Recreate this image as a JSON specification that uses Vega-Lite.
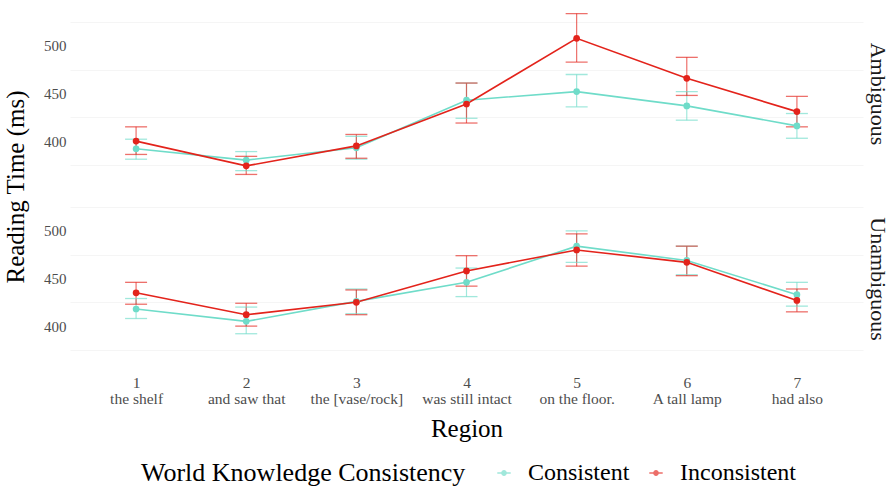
{
  "$schema": "https://vega.github.io/schema/vega-lite/v6.json",
  "padding": {"left": 3, "top": 5, "right": 2, "bottom": 5},
  "background": "white",
  "config": {
    "font": "Liberation Serif",
    "view": {"stroke": null},
    "facet": {"spacing": 7},
    "axis": {"domain": false, "ticks": false, "labelColor": "#4d4d4d", "titleColor": "#000000", "titleFontWeight": "normal", "gridColor": "#e6e6e6"}
  },
  "data": {"values": [
    {"ambiguity": "Ambiguous", "region": "1|the shelf", "condition": "Consistent", "rt": 392, "lo": 381, "hi": 402},
    {"ambiguity": "Ambiguous", "region": "2|and saw that", "condition": "Consistent", "rt": 380, "lo": 369, "hi": 389},
    {"ambiguity": "Ambiguous", "region": "3|the [vase/rock]", "condition": "Consistent", "rt": 393, "lo": 381, "hi": 405},
    {"ambiguity": "Ambiguous", "region": "4|was still intact", "condition": "Consistent", "rt": 443, "lo": 424, "hi": 461},
    {"ambiguity": "Ambiguous", "region": "5|on the floor.", "condition": "Consistent", "rt": 452, "lo": 436, "hi": 470},
    {"ambiguity": "Ambiguous", "region": "6|A tall lamp", "condition": "Consistent", "rt": 437, "lo": 422, "hi": 452},
    {"ambiguity": "Ambiguous", "region": "7|had also", "condition": "Consistent", "rt": 416, "lo": 403, "hi": 429},
    {"ambiguity": "Ambiguous", "region": "1|the shelf", "condition": "Inconsistent", "rt": 400, "lo": 386, "hi": 415},
    {"ambiguity": "Ambiguous", "region": "2|and saw that", "condition": "Inconsistent", "rt": 374, "lo": 365, "hi": 384},
    {"ambiguity": "Ambiguous", "region": "3|the [vase/rock]", "condition": "Inconsistent", "rt": 395, "lo": 382, "hi": 407},
    {"ambiguity": "Ambiguous", "region": "4|was still intact", "condition": "Inconsistent", "rt": 439, "lo": 419, "hi": 461},
    {"ambiguity": "Ambiguous", "region": "5|on the floor.", "condition": "Inconsistent", "rt": 508, "lo": 483, "hi": 534},
    {"ambiguity": "Ambiguous", "region": "6|A tall lamp", "condition": "Inconsistent", "rt": 466, "lo": 448, "hi": 488},
    {"ambiguity": "Ambiguous", "region": "7|had also", "condition": "Inconsistent", "rt": 431, "lo": 415, "hi": 447},
    {"ambiguity": "Unambiguous", "region": "1|the shelf", "condition": "Consistent", "rt": 418, "lo": 408, "hi": 429},
    {"ambiguity": "Unambiguous", "region": "2|and saw that", "condition": "Consistent", "rt": 405, "lo": 392, "hi": 420},
    {"ambiguity": "Unambiguous", "region": "3|the [vase/rock]", "condition": "Consistent", "rt": 426, "lo": 413, "hi": 439},
    {"ambiguity": "Unambiguous", "region": "4|was still intact", "condition": "Consistent", "rt": 446, "lo": 431, "hi": 461},
    {"ambiguity": "Unambiguous", "region": "5|on the floor.", "condition": "Consistent", "rt": 484, "lo": 467, "hi": 500},
    {"ambiguity": "Unambiguous", "region": "6|A tall lamp", "condition": "Consistent", "rt": 469, "lo": 454, "hi": 484},
    {"ambiguity": "Unambiguous", "region": "7|had also", "condition": "Consistent", "rt": 433, "lo": 421, "hi": 446},
    {"ambiguity": "Unambiguous", "region": "1|the shelf", "condition": "Inconsistent", "rt": 435, "lo": 423, "hi": 446},
    {"ambiguity": "Unambiguous", "region": "2|and saw that", "condition": "Inconsistent", "rt": 412, "lo": 400, "hi": 424},
    {"ambiguity": "Unambiguous", "region": "3|the [vase/rock]", "condition": "Inconsistent", "rt": 425, "lo": 412, "hi": 438},
    {"ambiguity": "Unambiguous", "region": "4|was still intact", "condition": "Inconsistent", "rt": 458, "lo": 442, "hi": 474},
    {"ambiguity": "Unambiguous", "region": "5|on the floor.", "condition": "Inconsistent", "rt": 480, "lo": 463, "hi": 497},
    {"ambiguity": "Unambiguous", "region": "6|A tall lamp", "condition": "Inconsistent", "rt": 467, "lo": 453, "hi": 484},
    {"ambiguity": "Unambiguous", "region": "7|had also", "condition": "Inconsistent", "rt": 427, "lo": 415, "hi": 439}
  ]},
  "facet": {
    "row": {
      "field": "ambiguity", "type": "nominal",
      "header": {"title": "Reading Time (ms)", "titleOrient": "left", "titleAngle": -90, "titleFontSize": 25, "titleFontWeight": "normal", "titleColor": "#000000", "titlePadding": -21, "labelOrient": "right", "labelAngle": 90, "labelFontSize": 22, "labelColor": "#1a1a1a", "labelPadding": 3}
    }
  },
  "spec": {
    "width": 793,
    "height": 178,
    "encoding": {
      "x": {
        "field": "region", "type": "ordinal", "title": "Region",
        "scale": {"type": "point", "padding": 0.6},
        "axis": {"labelAngle": 0, "labelExpr": "split(datum.label, '|')", "labelFontSize": 15.5, "labelLineHeight": 16, "labelPadding": 7, "titleFontSize": 25, "titlePadding": 10, "gridWidth": 1.2, "gridColor": "#e8e8e8"}
      },
      "color": {
        "field": "condition", "type": "nominal",
        "scale": {"domain": ["Consistent", "Inconsistent"], "range": ["#6fdcc9", "#e3231b"]},
        "legend": {"title": "World Knowledge Consistency", "orient": "none", "legendX": 71, "legendY": 456, "direction": "horizontal", "titleOrient": "left", "titleFontSize": 26, "titleFontWeight": "normal", "titleColor": "#000000", "titleLimit": 0, "labelLimit": 0, "labelFontSize": 24, "labelColor": "#000000", "symbolType": "M-1,0H1M0.32,0A0.32,0.32 0 1 1 -0.32,0A0.32,0.32 0 1 1 0.32,0Z", "symbolSize": 180, "symbolStrokeWidth": 1.5, "titlePadding": 26, "columnPadding": 14, "labelOffset": 12}
      }
    },
    "layer": [
      {
        "mark": {"type": "rule", "strokeWidth": 1.2, "opacity": 0.65},
        "encoding": {
          "y": {
            "field": "lo", "type": "quantitative",
            "scale": {"domain": [356, 543], "nice": false, "zero": false},
            "axis": {"orient": "left", "values": [375, 425, 475, 525], "labels": false, "title": null, "gridWidth": 0.7, "gridColor": "#f0f0f0"}
          },
          "y2": {"field": "hi"}
        }
      },
      {
        "mark": {"type": "tick", "size": 22, "thickness": 1.3, "opacity": 0.65},
        "encoding": {"y": {"field": "lo", "type": "quantitative", "axis": null}}
      },
      {
        "mark": {"type": "tick", "size": 22, "thickness": 1.3, "opacity": 0.65},
        "encoding": {"y": {"field": "hi", "type": "quantitative", "axis": null}}
      },
      {
        "mark": {"type": "line", "strokeWidth": 1.6},
        "encoding": {
          "y": {
            "field": "rt", "type": "quantitative",
            "axis": {"orient": "left", "values": [400, 450, 500], "title": null, "labelFontSize": 15, "labelPadding": 4, "gridWidth": 1.2, "gridColor": "#e6e6e6"}
          }
        }
      },
      {
        "mark": {"type": "point", "filled": true, "size": 45, "opacity": 1},
        "encoding": {"y": {"field": "rt", "type": "quantitative", "axis": null}}
      }
    ],
    "resolve": {"axis": {"y": "independent"}}
  }
}
